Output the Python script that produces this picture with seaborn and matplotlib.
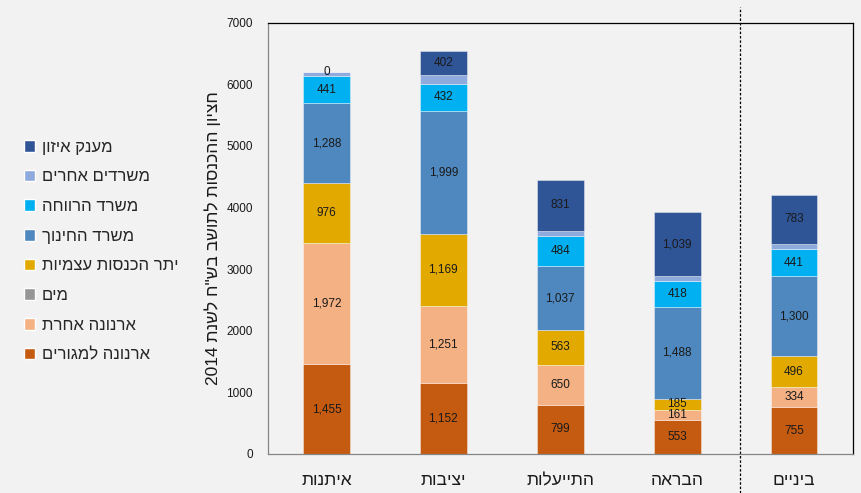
import re

import matplotlib
matplotlib.use("Agg")
import matplotlib.pyplot as plt
from matplotlib.patches import Patch
import pandas as pd
import seaborn as sns

# municipality groups, left to right
groups = ["איתנות", "יציבות", "התייעלות", "הבראה", "ביניים"]

# income components, bottom of the stack to top
components = ["ארנונה למגורים", "ארנונה אחרת", "מים", "יתר הכנסות עצמיות",
              "משרד החינוך", "משרד הרווחה", "משרדים אחרים", "מענק איזון"]
arnona_residential = [1455, 1152, 799, 553, 755]
arnona_other = [1972, 1251, 650, 161, 334]
water = [0, 0, 0, 0, 0]
other_own_income = [976, 1169, 563, 185, 496]
education = [1288, 1999, 1037, 1488, 1300]
welfare = [441, 432, 484, 418, 441]
other_ministries = [75, 142, 90, 78, 89]
balance_grant = [0, 402, 831, 1039, 783]

colors = ["#C55A11", "#F4B183", "#969696", "#E2AA00",
          "#4E88BE", "#00B0F0", "#8FAADC", "#2F5597"]
# which components get a value label
labelled = [True, True, False, True, True, True, False, True]

y_title = "חציון ההכנסות לתושב בש\"ח לשנת 2014"


def rtl(s):
    """matplotlib has no bidi support: flip Hebrew to visual order, keep numbers"""
    out = s[::-1]
    return re.sub(r"\d+", lambda m: m.group(0)[::-1], out)


values = [arnona_residential, arnona_other, water, other_own_income,
          education, welfare, other_ministries, balance_grant]

rows = []
for comp, vals in zip(components, values):
    for i, v in enumerate(vals):
        rows.append({"pos": i, "group": groups[i], "component": comp, "value": v})
df = pd.DataFrame(rows)

sns.set_style("white")
plt.rcParams["font.family"] = ["Liberation Sans", "DejaVu Sans"]
plt.rcParams["figure.facecolor"] = "#F2F2F2"
plt.rcParams["axes.facecolor"] = "#F2F2F2"

fig = plt.figure(figsize=(8.61, 4.93), dpi=100)
ax = fig.add_axes([268 / 861, 1 - 454 / 493, 584.5 / 861, 431.3 / 493])

# seaborn stacks the first hue level on top, so feed it top-to-bottom
sns.histplot(data=df, x="pos", weights="value", hue="component",
             hue_order=components[::-1], multiple="stack", discrete=True,
             shrink=0.4, palette=dict(zip(components, colors)), alpha=1,
             edgecolor=(1, 1, 1, 0.45), linewidth=0.6, legend=False, ax=ax)

# value labels in the middle of each segment
for i in range(len(groups)):
    bottom = 0
    for comp, vals, show in zip(components, values, labelled):
        v = vals[i]
        if show:
            ax.text(i, bottom + v / 2, f"{v:,}", ha="center", va="center",
                    fontsize=8.5, color="#1A1A1A")
        bottom += v

ax.set_xlim(-0.5, 4.5)
ax.set_ylim(0, 7000)
ax.set_yticks(range(0, 7001, 1000))
ax.set_xticks(range(len(groups)))
ax.set_xticklabels([rtl(g) for g in groups], fontsize=12.5, color="#1A1A1A")
ax.set_xticks([x - 0.5 for x in range(len(groups) + 1)], minor=True)
ax.tick_params(axis="x", which="major", length=0, pad=14)
ax.tick_params(axis="x", which="minor", length=6, color="#868686", width=0.8)
ax.tick_params(axis="y", length=4, color="#868686", width=0.8, pad=7,
               labelsize=8.5, labelcolor="#1A1A1A")
ax.set_xlabel("")
ax.set_ylabel(rtl(y_title), fontsize=12.5, color="#1A1A1A")
ax.yaxis.set_label_coords(-0.08, 0.5)

for side in ["left", "bottom"]:
    ax.spines[side].set_color("#868686")
    ax.spines[side].set_linewidth(0.9)
for side in ["top", "right"]:
    ax.spines[side].set_visible(True)
    ax.spines[side].set_color("black")
    ax.spines[side].set_linewidth(0.9)

# dotted separator before the last group
ax.axvline(3.54, ymin=-0.09, ymax=1.036, clip_on=False, color="black",
           lw=0.9, ls=(0, (2, 1.5)))

handles = [Patch(facecolor=c, label=rtl(n)) for n, c in zip(components, colors)][::-1]
fig.legend(handles=handles, loc="center left", bbox_to_anchor=(24 / 861, 1 - 251 / 493),
           frameon=False, fontsize=12, handlelength=0.68, handleheight=0.68,
           handletextpad=0.4, labelspacing=0.88, borderpad=0, borderaxespad=0)

fig.savefig("out.png", dpi=100, facecolor=fig.get_facecolor())
plt.close()
